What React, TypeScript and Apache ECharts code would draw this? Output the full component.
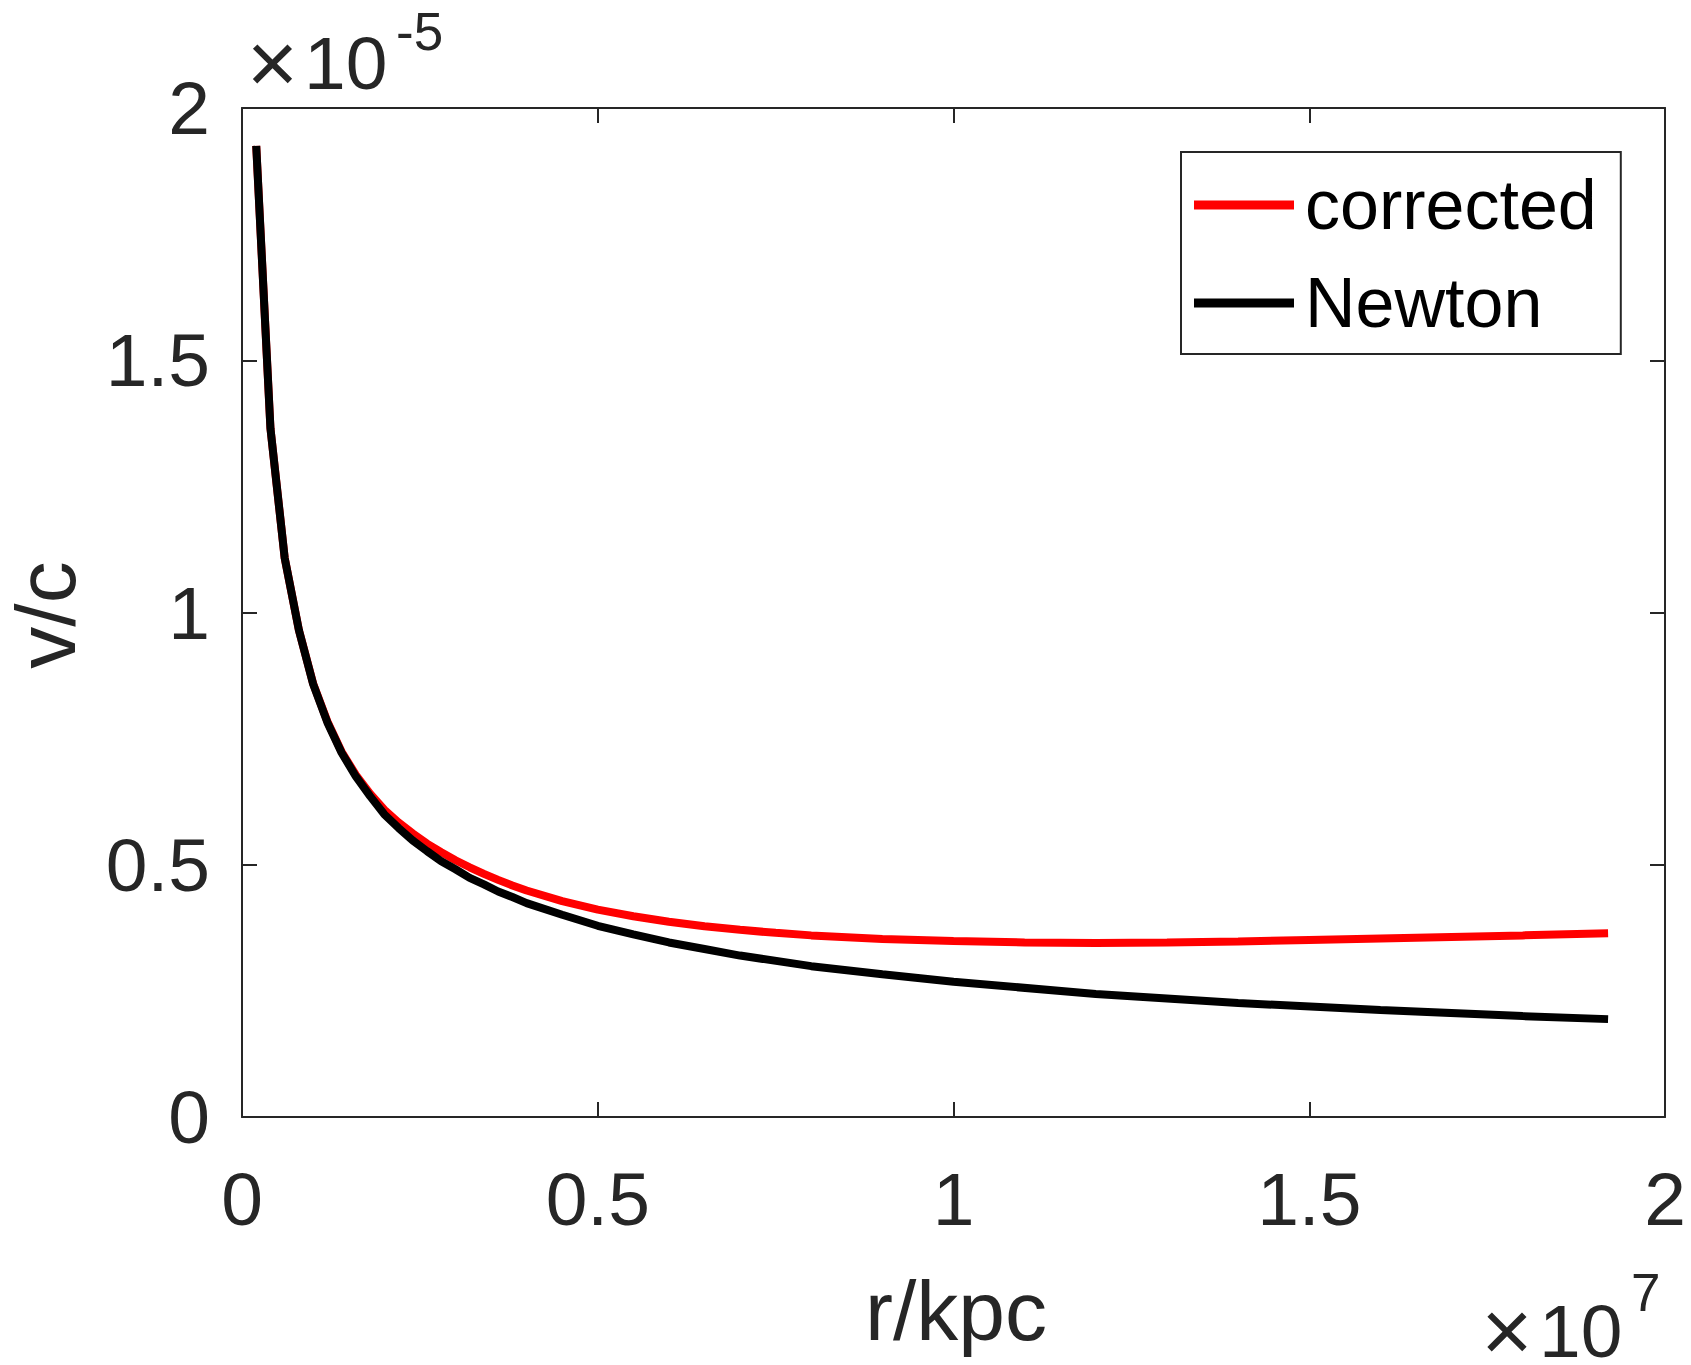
import React, { useEffect, useRef } from "react";
import * as echarts from "echarts";

// r in units of 1e7 kpc, v/c in units of 1e-5
const rNewton = [0.02, 0.04, 0.06, 0.08, 0.10, 0.12, 0.14, 0.16, 0.18, 0.20, 0.22, 0.24, 0.26, 0.28, 0.30, 0.32, 0.34, 0.36, 0.38, 0.40, 0.45, 0.50, 0.55, 0.60, 0.65, 0.70, 0.80, 0.90, 1.00, 1.20, 1.40, 1.60, 1.80, 1.92];
const vNewton = [1.925, 1.365, 1.108, 0.965, 0.858, 0.782, 0.722, 0.675, 0.636, 0.600, 0.573, 0.548, 0.527, 0.507, 0.491, 0.474, 0.461, 0.447, 0.436, 0.424, 0.401, 0.379, 0.362, 0.346, 0.333, 0.320, 0.299, 0.283, 0.268, 0.244, 0.226, 0.212, 0.200, 0.194];

const rCorrected = [0.02, 0.04, 0.06, 0.08, 0.10, 0.12, 0.14, 0.16, 0.18, 0.20, 0.22, 0.24, 0.26, 0.28, 0.30, 0.32, 0.34, 0.36, 0.38, 0.40, 0.45, 0.50, 0.55, 0.60, 0.65, 0.70, 0.75, 0.80, 0.90, 1.00, 1.10, 1.20, 1.30, 1.40, 1.50, 1.60, 1.70, 1.80, 1.92];
const vCorrected = [1.925, 1.365, 1.108, 0.965, 0.859, 0.784, 0.724, 0.678, 0.641, 0.609, 0.584, 0.562, 0.542, 0.525, 0.509, 0.495, 0.482, 0.470, 0.459, 0.449, 0.428, 0.411, 0.398, 0.387, 0.378, 0.371, 0.365, 0.360, 0.353, 0.349, 0.346, 0.345, 0.346, 0.348, 0.351, 0.354, 0.357, 0.360, 0.364];

const seriesNames = ["corrected", "Newton"];
const xTicks = [0, 0.5, 1, 1.5, 2];
const yTicks = [0, 0.5, 1, 1.5, 2];
const xLabel = "r/kpc";
const yLabel = "v/c";
const yExponent = "-5";
const xExponent = "7";

const FONT = "'Liberation Sans', Arial, Helvetica, sans-serif";
const AX = "#262626";

export default function App() {
  const ref = useRef<HTMLDivElement>(null);
  useEffect(() => {
    if (!ref.current) return;
    const chart = echarts.init(ref.current, undefined, { renderer: "svg" });
    const baseAxis = {
      type: "value" as const,
      min: xTicks[0],
      max: xTicks[xTicks.length - 1],
      interval: 0.5,
      splitLine: { show: false },
      axisLine: { show: true, onZero: false, lineStyle: { color: AX, width: 2 } },
      axisTick: { show: true, inside: true, length: 15, lineStyle: { color: AX, width: 2 } },
    };
    const yBase = {
      ...baseAxis,
      min: yTicks[0],
      max: yTicks[yTicks.length - 1],
    };
    const txt = (x: number, y: number, text: string, fontSize: number, align: string, extra: any = {}) => ({
      type: "text",
      x,
      y,
      ...extra,
      style: { text, fontSize, fill: AX, fontFamily: FONT, align, verticalAlign: "middle", lineHeight: Math.round(fontSize * 0.85) },
    });
    chart.setOption({
      animation: false,
      backgroundColor: "#ffffff",
      grid: { left: 242, top: 108, width: 1423, height: 1009, containLabel: false },
      xAxis: [
        {
          ...baseAxis,
          position: "bottom",
          axisLabel: { fontSize: 75, color: AX, fontFamily: FONT, margin: 44 },
        },
        { ...baseAxis, position: "top", axisLabel: { show: false } },
      ],
      yAxis: [
        {
          ...yBase,
          position: "left",
          axisLabel: { fontSize: 75, color: AX, fontFamily: FONT, margin: 32, padding: [10, 0, 0, 0] },
        },
        { ...yBase, position: "right", axisLabel: { show: false } },
      ],
      legend: {
        data: seriesNames,
        orient: "vertical",
        left: 1181,
        top: 152,
        icon: "rect",
        itemWidth: 100,
        itemHeight: 9,
        itemGap: 0,
        padding: [4, 24, 2, 13],
        borderColor: AX,
        borderWidth: 2,
        backgroundColor: "#ffffff",
        textStyle: { fontSize: 70, color: "#000000", fontFamily: FONT, lineHeight: 84, padding: [14, 0, 0, 6] },
      },
      series: [
        {
          name: seriesNames[0],
          type: "line",
          xAxisIndex: 0,
          yAxisIndex: 0,
          data: rCorrected.map((r, i) => [r, vCorrected[i]]),
          showSymbol: false,
          symbol: "none",
          color: "#ff0000",
          lineStyle: { color: "#ff0000", width: 8 },
          z: 2,
        },
        {
          name: seriesNames[1],
          type: "line",
          xAxisIndex: 0,
          yAxisIndex: 0,
          data: rNewton.map((r, i) => [r, vNewton[i]]),
          showSymbol: false,
          symbol: "none",
          color: "#000000",
          lineStyle: { color: "#000000", width: 8 },
          z: 3,
        },
      ],
      graphic: [
        txt(272.5, 62, "×", 88, "center"),
        txt(304, 63, "10", 75, "left"),
        txt(396, 31.6, yExponent, 53, "left"),
        txt(1507, 1330, "×", 88, "center"),
        txt(1539, 1331, "10", 75, "left"),
        txt(1631, 1292.6, xExponent, 53, "left"),
        txt(956, 1311, xLabel, 84, "center"),
        txt(46, 615, yLabel, 84, "center", { rotation: Math.PI / 2 }),
      ],
    });
    return () => chart.dispose();
  }, []);
  return (
    <div
      ref={ref}
      style={{ position: "absolute", left: 0, top: 0, width: 1691, height: 1365, background: "#ffffff" }}
    />
  );
}
